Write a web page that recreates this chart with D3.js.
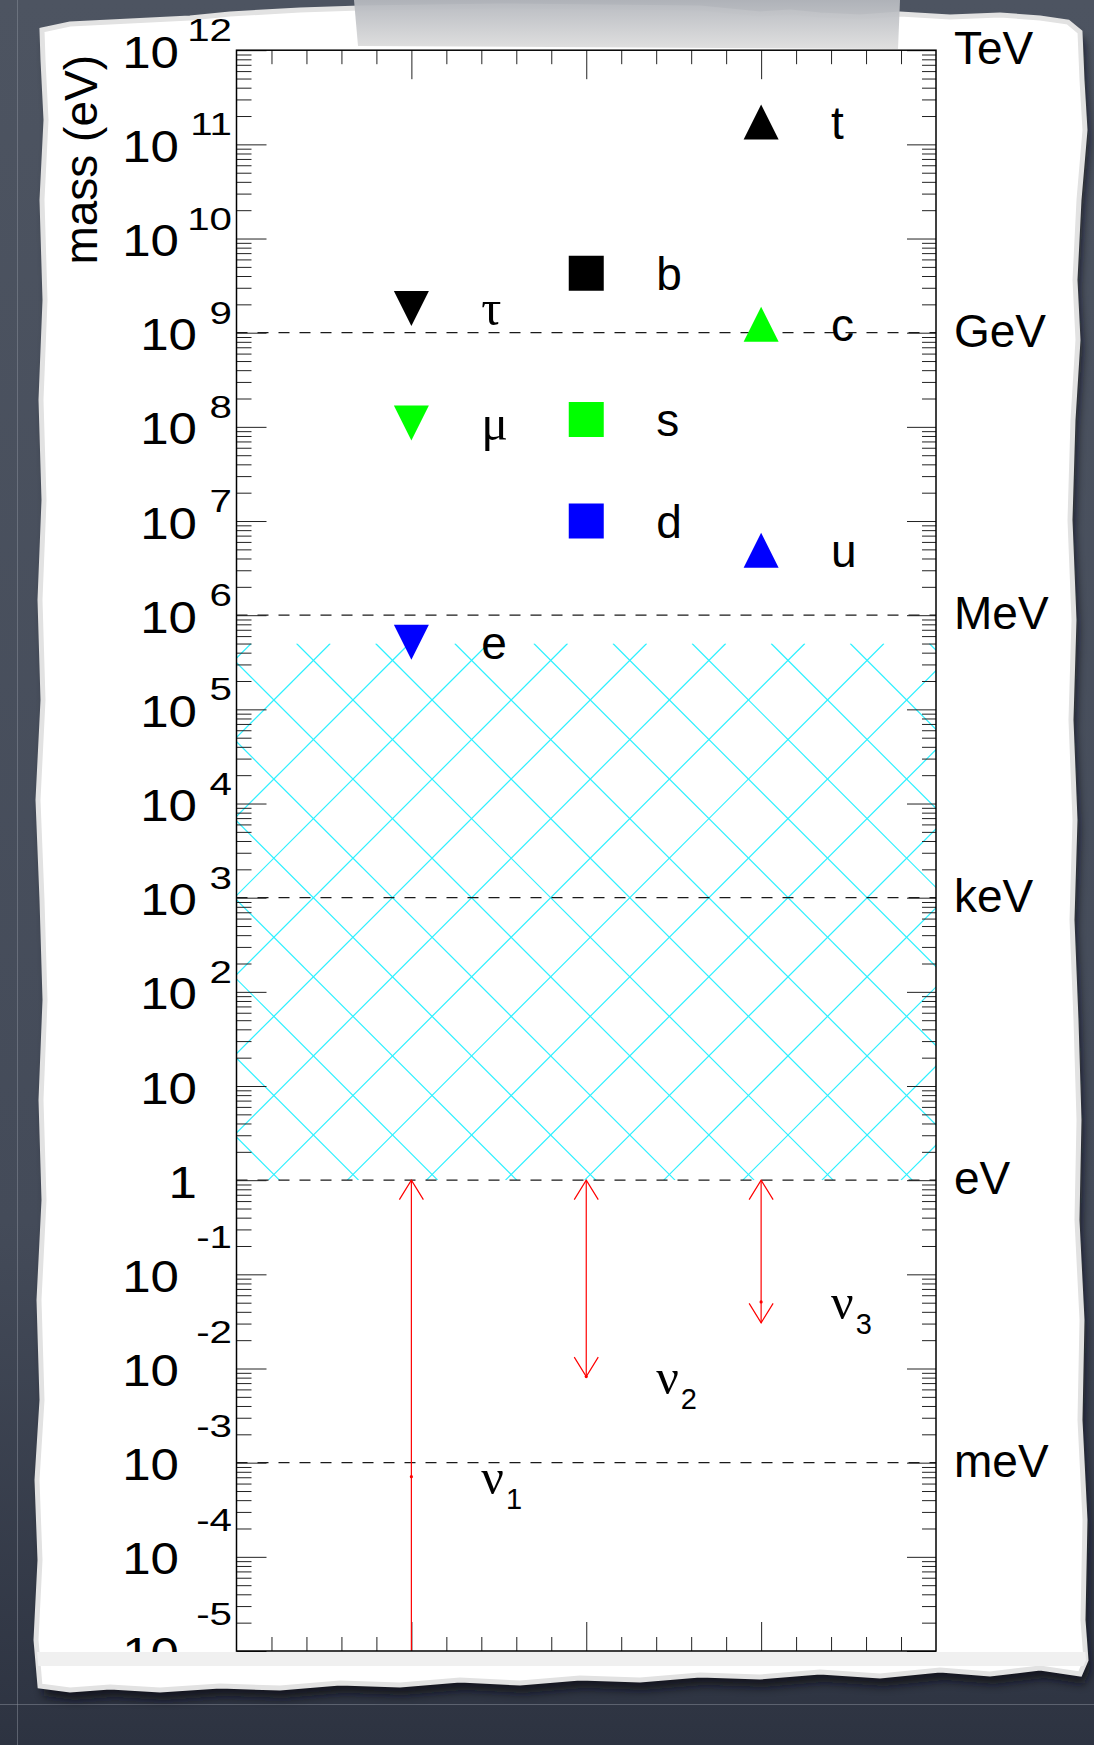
<!DOCTYPE html>
<html>
<head>
<meta charset="utf-8">
<script src="https://cdn.jsdelivr.net/npm/d3@7"></script>
<style>
  body { margin: 0; background: #454c59; }
  svg { display: block; }
  text { font-family: 'Liberation Sans', Arial, Helvetica, sans-serif; fill: #000; }
  .greek { font-family: 'Liberation Serif', 'Times New Roman', serif; }
</style>
</head>
<body>
<svg id="fig" width="1094" height="1745"></svg>
<script>
// fermion masses in eV
const names = ['τ', 'μ', 'e', 'b', 's', 'd', 't', 'c', 'u'];
const columns = [1, 1, 1, 2, 2, 2, 3, 3, 3];
const generations = [3, 2, 1, 3, 2, 1, 3, 2, 1];
const masses = [1.81e9, 1.1e8, 5.15e5, 4.27e9, 1.2e8, 1.0e7, 1.73e11, 1.23e9, 4.9e6];

// neutrinos: point, lower end and upper end (eV)
const nuNames = ['1', '2', '3'];
const nuColumns = [1, 2, 3];
const nuMasses = [7.1e-4, 8.2e-3, 5.1e-2];
const nuLow = [1e-6, 8.2e-3, 3.05e-2];
const nuHigh = [1, 1, 1];

// hatched band (eV)
const bandLow = 1, bandHigh = 5e5;

// energy units on the right
const unitValues = [1e12, 1e9, 1e6, 1e3, 1, 1e-3];
const unitNames = ['TeV', 'GeV', 'MeV', 'keV', 'eV', 'meV'];

// axis ticks
const decades = d3.range(-5, 13);
const xMajor = [1, 2, 3];
const xMinor = d3.range(1, 20).map(i => i / 5).filter(v => v % 1 !== 0);

const genColor = { 1: '#0000ff', 2: '#00ff00', 3: '#000000' };

const W = 1094, H = 1745;
const svg = d3.select('#fig');
const defs = svg.append('defs');

const x = d3.scaleLinear().domain([0, 4]).range([236.5, 936]);
const y = d3.scaleLog().domain([1e-5, 1e12]).range([1651, 50.2]);
const x0 = x(0), x1 = x(4), y0 = y(1e12), y1 = y(1e-5);

// ---- background / paper ----
const bg = defs.append('linearGradient').attr('id', 'bg')
    .attr('x1', 0).attr('y1', 0).attr('x2', 0).attr('y2', 1);
bg.append('stop').attr('offset', '0%').attr('stop-color', '#4d5461');
bg.append('stop').attr('offset', '70%').attr('stop-color', '#444b59');
bg.append('stop').attr('offset', '100%').attr('stop-color', '#2d3341');
defs.append('filter').attr('id', 'soft')
    .append('feGaussianBlur').attr('stdDeviation', 5);

svg.append('rect').attr('width', W).attr('height', H).attr('fill', 'url(#bg)');
svg.append('line').attr('x1', 17.5).attr('x2', 17.5).attr('y1', 0).attr('y2', H)
    .attr('stroke', '#8a909b').attr('stroke-opacity', 0.5);
svg.append('line').attr('x1', 0).attr('x2', W).attr('y1', 1704.5).attr('y2', 1704.5)
    .attr('stroke', '#8a909b').attr('stroke-opacity', 0.5);

const paperEdge = [
  [42, 30], [70, 24], [110, 22], [150, 20], [190, 18], [230, 14], [300, 10], [360, 8],
  [500, 6], [700, 8], [760, 14], [790, 12], [820, 15], [860, 17], [900, 14], [950, 17], [1000, 15],
  [1040, 18], [1068, 22], [1080, 32],
  [1082, 80], [1085, 130], [1079, 200], [1075, 280], [1078, 340], [1073, 420], [1070, 520],
  [1074, 620], [1071, 720], [1075, 820], [1072, 920], [1076, 1020], [1079, 1120],
  [1077, 1220], [1082, 1320], [1080, 1420], [1085, 1520], [1083, 1620], [1086, 1660], [1080, 1674],
  [1040, 1668], [990, 1674], [940, 1670], [880, 1676], [820, 1672], [760, 1677], [700, 1675],
  [640, 1680], [580, 1678], [520, 1683], [460, 1680], [400, 1685], [340, 1683], [280, 1688],
  [220, 1686], [160, 1690], [110, 1687], [70, 1690], [40, 1686],
  [36, 1640], [40, 1560], [37, 1480], [42, 1400], [39, 1300], [44, 1200], [41, 1100],
  [45, 1000], [42, 900], [38, 800], [43, 700], [40, 600], [44, 500], [41, 400], [45, 300],
  [42, 200], [46, 120], [43, 60]
];
const paperPath = d3.line()(paperEdge) + 'Z';
defs.append('clipPath').attr('id', 'paperClip').append('path').attr('d', paperPath);

svg.append('path').attr('d', paperPath).attr('fill', '#0b0d12').attr('opacity', 0.8)
    .attr('transform', 'translate(4,10)').attr('filter', 'url(#soft)');
svg.append('path').attr('d', paperPath).attr('fill', '#ffffff')
    .attr('stroke', '#e2e2e2').attr('stroke-width', 5);
svg.append('rect').attr('clip-path', 'url(#paperClip)')
    .attr('x', 30).attr('y', y1 + 1).attr('width', 1060).attr('height', 14).attr('fill', '#f0f0f0');

// tape
const tape = defs.append('linearGradient').attr('id', 'tape')
    .attr('x1', 0).attr('y1', 0).attr('x2', 0).attr('y2', 1);
tape.append('stop').attr('offset', '0%').attr('stop-color', '#b4b7bd');
tape.append('stop').attr('offset', '100%').attr('stop-color', '#dedede');
svg.append('path').attr('d', d3.line()([[354, 0], [900, 0], [898, 49], [358, 46]]) + 'Z')
    .attr('fill', 'url(#tape)').attr('opacity', 0.95);

// ---- hatched band ----
defs.append('clipPath').attr('id', 'bandClip').append('rect')
    .attr('x', x0).attr('y', y(bandHigh))
    .attr('width', x1 - x0).attr('height', y(bandLow) - y(bandHigh));
const hs = 79.1, hA = 24.6, hB = 48.5;
const hy0 = y(bandHigh), hy1 = y(bandLow);
const sums = d3.range(Math.floor((x0 + hy0 - hA) / hs) - 1, Math.ceil((x1 + hy1 - hA) / hs) + 2)
    .map(k => hA + k * hs);
const diffs = d3.range(Math.floor((x0 - hy1 - hB) / hs) - 1, Math.ceil((x1 - hy0 - hB) / hs) + 2)
    .map(k => hB + k * hs);
const hatch = svg.append('g').attr('clip-path', 'url(#bandClip)')
    .attr('stroke', '#2ef0ff').attr('stroke-width', 1.2);
hatch.selectAll('line.a').data(sums).join('line').attr('class', 'a')
    .attr('x1', c => c - hy1).attr('y1', hy1).attr('x2', c => c - hy0).attr('y2', hy0);
hatch.selectAll('line.b').data(diffs).join('line').attr('class', 'b')
    .attr('x1', c => c + hy0).attr('y1', hy0).attr('x2', c => c + hy1).attr('y2', hy1);

// ---- dashed unit lines ----
svg.append('g').selectAll('line')
    .data(unitValues.filter(v => v < 1e12))
    .join('line')
    .attr('x1', x0).attr('x2', x1)
    .attr('y1', d => y(d)).attr('y2', d => y(d))
    .attr('stroke', '#1a1a1a').attr('stroke-width', 1.2)
    .attr('stroke-dasharray', '11,10');

// ---- axes ticks ----
const majorY = decades.map(n => Math.pow(10, n));
const minorY = [];
decades.slice(0, -1).forEach(n => { for (let k = 2; k < 10; k++) minorY.push(k * Math.pow(10, n)); });

function tickStyle(g) {
  g.select('.domain').remove();
  g.selectAll('line').attr('stroke', '#222').attr('stroke-width', 1);
}
svg.append('g').attr('transform', `translate(${x0},0)`)
    .call(d3.axisLeft(y).tickValues(majorY).tickSize(-30).tickFormat('')).call(tickStyle);
svg.append('g').attr('transform', `translate(${x0},0)`)
    .call(d3.axisLeft(y).tickValues(minorY).tickSize(-15).tickFormat('')).call(tickStyle);
svg.append('g').attr('transform', `translate(${x1},0)`)
    .call(d3.axisRight(y).tickValues(majorY).tickSize(-29).tickFormat('')).call(tickStyle);
svg.append('g').attr('transform', `translate(${x1},0)`)
    .call(d3.axisRight(y).tickValues(minorY).tickSize(-14).tickFormat('')).call(tickStyle);
svg.append('g').attr('transform', `translate(0,${y0})`)
    .call(d3.axisTop(x).tickValues(xMajor).tickSize(-29).tickFormat('')).call(tickStyle);
svg.append('g').attr('transform', `translate(0,${y0})`)
    .call(d3.axisTop(x).tickValues(xMinor).tickSize(-14).tickFormat('')).call(tickStyle);
svg.append('g').attr('transform', `translate(0,${y1})`)
    .call(d3.axisBottom(x).tickValues(xMajor).tickSize(-29).tickFormat('')).call(tickStyle);
svg.append('g').attr('transform', `translate(0,${y1})`)
    .call(d3.axisBottom(x).tickValues(xMinor).tickSize(-14).tickFormat('')).call(tickStyle);

// ---- neutrinos ----
const nu = svg.append('g').attr('stroke', '#ff0000').attr('stroke-width', 1.2).attr('fill', 'none');
nuNames.forEach((n, i) => {
  const cx = x(nuColumns[i]);
  const top = y(nuHigh[i]);
  const low = nuLow[i] < 1e-5 ? y1 : y(nuLow[i]);
  nu.append('line').attr('x1', cx).attr('x2', cx).attr('y1', top).attr('y2', low);
  nu.append('path').attr('d', `M${cx - 12},${top + 19.5}L${cx},${top}L${cx + 12},${top + 19.5}`);
  if (nuLow[i] >= 1e-5) {
    nu.append('path').attr('d', `M${cx - 12},${low - 19.5}L${cx},${low}L${cx + 12},${low - 19.5}`);
  }
  svg.append('circle').attr('cx', cx).attr('cy', y(nuMasses[i])).attr('r', 1.6).attr('fill', '#ff0000');
  const t = svg.append('text').attr('x', x(nuColumns[i] + 0.4)).attr('y', y(nuMasses[i]) + 17);
  t.append('tspan').attr('class', 'greek').attr('font-size', 50).text('ν');
  t.append('tspan').attr('font-size', 29).attr('dx', 2).attr('dy', 15).text(n);
});

// ---- charged fermions ----
const R = 17.5;
function markerPath(col, cx, cy) {
  if (col === 1) return `M${cx - R},${cy - R}L${cx + R},${cy - R}L${cx},${cy + R}Z`;
  if (col === 3) return `M${cx - R},${cy + R}L${cx + R},${cy + R}L${cx},${cy - R}Z`;
  return `M${cx - R},${cy - R}H${cx + R}V${cy + R}H${cx - R}Z`;
}
svg.append('g').selectAll('path')
    .data(names.map((n, i) => i))
    .join('path')
    .attr('d', i => markerPath(columns[i], x(columns[i]), y(masses[i])))
    .attr('fill', i => genColor[generations[i]]);

svg.append('g').selectAll('text')
    .data(names.map((n, i) => i))
    .join('text')
    .attr('class', i => columns[i] === 1 && names[i] !== 'e' ? 'greek' : null)
    .attr('x', i => x(columns[i] + 0.4))
    .attr('y', i => y(masses[i]) + 17)
    .attr('font-size', i => columns[i] === 1 && names[i] !== 'e' ? 50 : 46)
    .text(i => names[i]);

// ---- frame ----
svg.append('rect').attr('x', x0).attr('y', y0).attr('width', x1 - x0).attr('height', y1 - y0)
    .attr('fill', 'none').attr('stroke', '#000').attr('stroke-width', 1.5);

// ---- y tick labels ----
defs.append('clipPath').attr('id', 'imgClip').append('rect')
    .attr('x', 0).attr('y', 0).attr('width', W).attr('height', y1 + 1);
const lab = svg.append('g').attr('clip-path', 'url(#imgClip)');
decades.forEach(n => {
  const ty = y(Math.pow(10, n));
  let base = '10', exp = null;
  if (n === 0) base = '1';
  else if (n !== 1) exp = String(n);
  const baseEnd = (exp && exp.length > 1) ? 179 : 197;
  lab.append('text').attr('transform', `translate(${baseEnd},${ty + 17.5}) scale(1.16,1)`)
      .attr('text-anchor', 'end').attr('font-size', 44).text(base);
  if (exp) {
    lab.append('text').attr('transform', `translate(232,${ty + (n < 0 ? -26 : -9)}) scale(1.3,1)`)
        .attr('text-anchor', 'end').attr('font-size', 31).text(exp);
  }
});

// ---- unit labels and axis title ----
svg.append('g').selectAll('text')
    .data(unitValues)
    .join('text')
    .attr('x', 954)
    .attr('y', d => y(d) + 14)
    .attr('font-size', 46)
    .text((d, i) => unitNames[i]);

svg.append('text').attr('transform', 'translate(97,55) rotate(-90)')
    .attr('text-anchor', 'end').attr('font-size', 46).text('mass (eV)');
</script>
</body>
</html>
